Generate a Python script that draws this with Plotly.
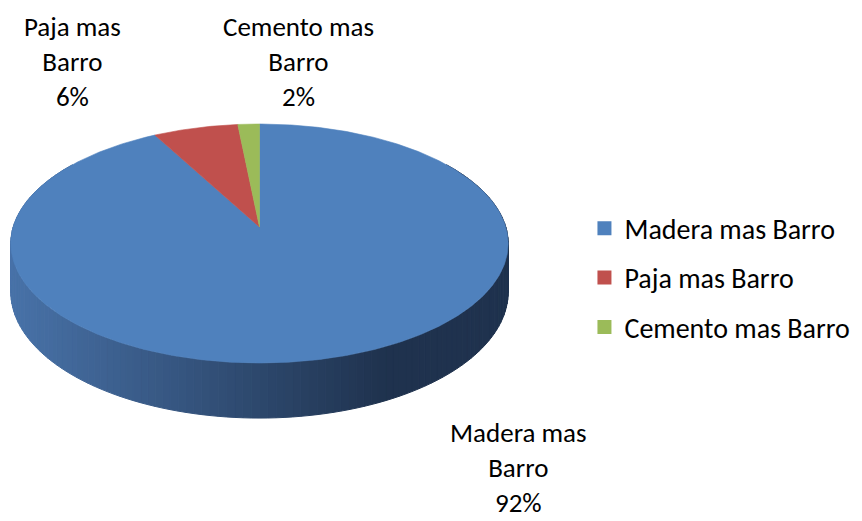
import numpy as np
import plotly.graph_objects as go

# ---------------- data ----------------
categories = ["Madera mas Barro", "Paja mas Barro", "Cemento mas Barro"]
values = [92.1, 6.3, 1.6]
label_lines = ["Madera mas<br>Barro", "Paja mas<br>Barro", "Cemento mas<br>Barro"]
colors = ["#4F81BD", "#C0504D", "#9BBB59"]

# ---------------- geometry of the 3D (perspective) pie ----------------
CX, CY = 259.5, 227.0     # projected centre of top face (viewport pixels)
A, B = 246.3, 117.2       # horizontal / vertical radii
K = 0.138                 # perspective factor
DEPTH = 47.5              # thickness of the pie

FONT = "Carlito, Calibri, Lato, sans-serif"
OFF = 8                   # page body margin
W, H = 862 - OFF, 521 - OFF


def proj(phi_deg, drop=0.0):
    phi = np.radians(phi_deg)
    u, v = np.sin(phi), np.cos(phi)
    den = 1 + K * v
    return CX + A * u / den, CY - B * v / den + drop / den


side_left = np.array([72, 114, 168])
side_right = np.array([31, 50, 78])


def side_color(x):
    t = min(max((x - 11) / (385 - 11), 0), 1)
    c = side_left + (side_right - side_left) * t
    return "rgb(%d,%d,%d)" % tuple(np.round(c))


fig = go.Figure()

# side wall (gradient strips)
N = 150
edges = np.linspace(55, 305, N + 1)
for a0, a1 in zip(edges[:-1], edges[1:]):
    arc = np.linspace(a0, a1, 4)
    tx, ty = proj(arc)
    bx, by = proj(arc[::-1], DEPTH)
    xs = np.concatenate([tx, bx, tx[:1]])
    ys = np.concatenate([ty, by, ty[:1]])
    col = side_color(float(np.mean(tx)))
    fig.add_trace(go.Scatter(x=xs, y=ys, mode="lines", fill="toself",
                             fillcolor=col, line=dict(color=col, width=1),
                             hoverinfo="skip", showlegend=False))

# top face slices (clockwise from 12 o'clock)
total = sum(values)
start = 0.0
for cat, val, col in zip(categories, values, colors):
    sweep = val / total * 360.0
    arc = np.linspace(start, start + sweep, max(int(sweep * 2), 3))
    ax_, ay_ = proj(arc)
    xs = np.concatenate([[CX], ax_, [CX]])
    ys = np.concatenate([[CY], ay_, [CY]])
    fig.add_trace(go.Scatter(x=xs, y=ys, mode="lines", fill="toself",
                             fillcolor=col, line=dict(color=col, width=0.6),
                             name=cat, hoverinfo="name", showlegend=False))
    start += sweep

# legend entries
for cat, col in zip(categories, colors):
    fig.add_trace(go.Scatter(x=[None], y=[None], mode="markers",
                             marker=dict(symbol="square", size=14, color=col),
                             name=cat, legendgroup=cat, showlegend=True))

# data labels
label_pos = [(518, 467), (72, 61), (298, 61)]
for lines, val, (lx, ly) in zip(label_lines, values, label_pos):
    pct = round(val / total * 100)
    fig.add_annotation(x=lx, y=ly, xref="x", yref="y",
                       text=f"{lines}<br>{pct}%", showarrow=False,
                       xanchor="center", yanchor="middle", align="center",
                       font=dict(family=FONT, size=27, color="#000000"))

fig.update_layout(
    width=W, height=H,
    margin=dict(l=0, r=0, t=0, b=0),
    paper_bgcolor="white", plot_bgcolor="white",
    xaxis=dict(range=[OFF, OFF + W], visible=False, fixedrange=True),
    yaxis=dict(range=[OFF + H, OFF], visible=False, fixedrange=True),
    showlegend=True,
    legend=dict(x=0.675, y=0.619, xanchor="left", yanchor="top",
                font=dict(family=FONT, size=28, color="#000000"),
                tracegroupgap=10, bgcolor="rgba(0,0,0,0)"),
)

fig.write_html("out.html")
